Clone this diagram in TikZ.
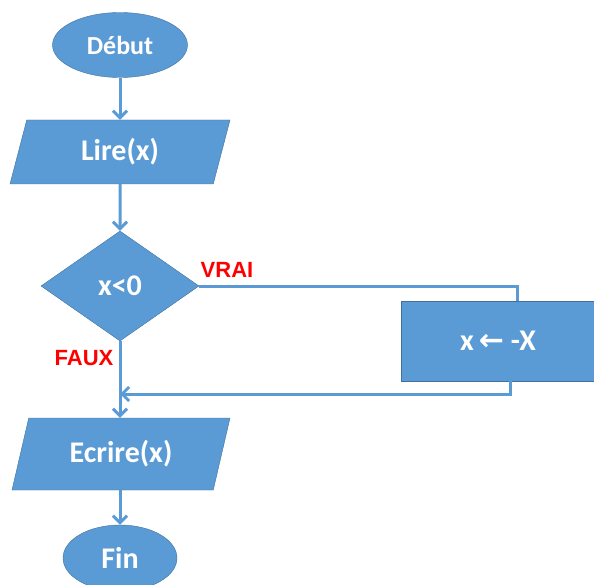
\documentclass[tikz,border=0pt]{standalone}
\usepackage{fontspec}
\setmainfont{Carlito}
\newfontfamily\labelfont{Liberation Sans}
\newfontfamily\arrowfont{DejaVu Sans}
\usetikzlibrary{shapes,arrows.meta,calc}
\definecolor{boxblue}{HTML}{5B9BD5}
\definecolor{edgeblue}{HTML}{41719C}
\definecolor{vrai}{HTML}{FF0000}
\tikzstyle{terminal}=[ellipse,
                      draw=edgeblue,
                      fill=boxblue,
                      text=white,
                      font=\bfseries\fontsize{26}{30}\selectfont]
\tikzstyle{io}=[trapezium,
                trapezium left angle=58,
                trapezium right angle=122,
                trapezium stretches body,
                inner sep=0pt,
                draw=edgeblue,
                fill=boxblue,
                text=white,
                font=\bfseries\fontsize{30}{34}\selectfont]
\tikzstyle{decision}=[diamond, draw=edgeblue, fill=boxblue, inner sep=0pt,
text=white, font=\bfseries\fontsize{30}{34}\selectfont]
\tikzstyle{block} = [rectangle, draw=edgeblue, fill=boxblue,
text=white, font=\bfseries\fontsize{30}{34}\selectfont]
\tikzstyle{line} = [draw=boxblue, line width=3pt, -{Straight Barb[length=7pt,width=14pt]}]
\tikzstyle{wire} = [draw=boxblue, line width=3pt]
\tikzstyle{answer} = [text=vrai, font=\labelfont\bfseries\fontsize{22}{26}\selectfont]

\begin{document}
\begin{tikzpicture}[x=1pt,y=-1pt]
      \useasboundingbox (0,0) rectangle (594,585);

      \node [terminal, minimum width=135pt, minimum height=65pt] (debut) at (120,45) {Début};
      \node [io, minimum width=220pt, minimum height=64pt] (lire) at (120,152) {Lire(x)};
      \node [decision, minimum width=158pt, minimum height=110pt] (test) at (120,286) {x<0};
      \node [block, minimum width=194pt, minimum height=80pt] (neg) at (498,341) {x\,{\arrowfont ←}\ -X};
      \node [io, minimum width=218pt, minimum height=72pt] (ecrire) at (121,454) {Ecrire(x)};
      \node [terminal, minimum width=114pt, minimum height=66pt, font=\bfseries\fontsize{30}{34}\selectfont] (fin) at (120,558) {Fin};

      \node [answer] (vraitxt) at (227,270) {VRAI};
      \node [answer] (fauxtxt) at (84,358) {FAUX};

      \coordinate (join) at (120,394);

      \path [line] (debut) edge (lire);
      \path [line] (lire) edge (test);
      \path [wire] (test.east) -| ($(neg.north)+(19,0)$);
      \path [line] ($(neg.south)+(12,0)$) |- (join);
      \path [line] (test.south) -- (test.south |- ecrire.north);
      \path [line] (ecrire.south -| fin.north) -- (fin.north);
\end{tikzpicture}
\end{document}
